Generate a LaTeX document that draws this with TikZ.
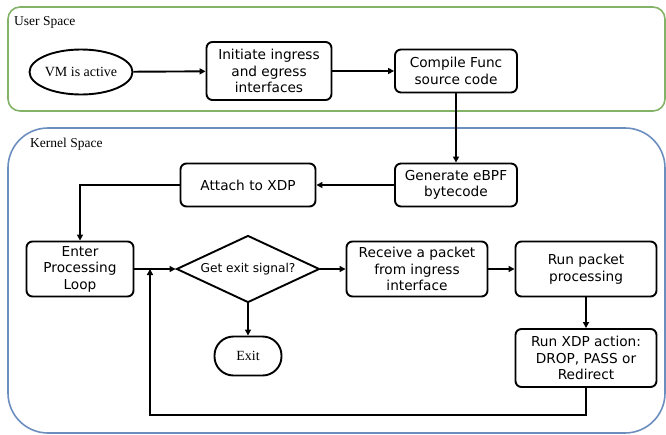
\documentclass[tikz,border=0pt]{standalone}
\usepackage{fontspec}
\setmainfont{Liberation Serif}
\newfontfamily\boxfont{DejaVu Sans}
\usetikzlibrary{arrows.meta,positioning,calc,shapes.geometric}
\definecolor{usrGreen}{HTML}{82B366}
\definecolor{krnBlue}{HTML}{6C8EBF}

\begin{document}
\begin{tikzpicture}[x=1pt,y=-1pt,
  proc/.style={draw,line width=1.9pt,rounded corners=6pt,align=center,inner sep=2pt,
    font=\boxfont\fontsize{13.7}{16.5}\selectfont},
  cond/.style={draw,diamond,aspect=2.13,line width=1.9pt,inner sep=0pt,minimum width=143pt,minimum height=67pt,
    font=\boxfont\fontsize{12.2}{14}\selectfont},
  term/.style={draw,ellipse,line width=1.9pt,inner sep=0pt,minimum width=103pt,minimum height=45pt,
    font=\fontsize{14}{16}\selectfont},
  stopnode/.style={draw,line width=1.9pt,rounded corners=19pt,minimum width=67pt,minimum height=39pt,
    font=\fontsize{14}{16}\selectfont},
  flow/.style={-{Triangle[length=6pt,width=6pt]},line width=1.9pt},
  space/.style={line width=1.6pt},
  lbl/.style={anchor=west,inner sep=0pt,font=\fontsize{13.5}{16}\selectfont}]
  \useasboundingbox (0,0) rectangle (666,434);
  % the two spaces
  \draw[space,usrGreen,rounded corners=12pt] (8,7) rectangle (665,111);
  \draw[space,krnBlue,rounded corners=40pt] (8,128) rectangle (665,433);
  \node[lbl] (usr) at (14,22) {User Space};
  \node[lbl] (krn) at (30,144) {Kernel Space};
  % user space
  \node[term] (vm) at (81,72) {VM is active};
  \node[proc,minimum width=125pt,minimum height=58pt] (init) at (269,71) {Initiate ingress\\and egress\\interfaces};
  \node[proc,minimum width=122pt,minimum height=43pt] (comp) at (456,71) {Compile Func\\source code};
  % kernel space
  \node[proc,minimum width=122pt,minimum height=43pt] (gen) at (456,185) {Generate eBPF\\bytecode};
  \node[proc,minimum width=135pt,minimum height=43pt] (xdp) at (248,185) {Attach to XDP};
  \node[proc,minimum width=107pt,minimum height=55pt] (loop) at (80,269) {Enter\\Processing\\Loop};
  \node[cond] (sig) at (248,269) {Get exit signal?};
  \node[proc,minimum width=141pt,minimum height=55pt] (recv) at (417,269) {Receive a packet\\from ingress\\interface};
  \node[proc,minimum width=141pt,minimum height=55pt] (run) at (586,269) {Run packet\\processing};
  \node[proc,minimum width=141pt,minimum height=58pt] (act) at (586,358) {Run XDP action:\\DROP, PASS or\\Redirect};
  \node[stopnode] (exit) at (248,356) {Exit};
  \coordinate (back) at (150,415);
  \draw[flow] (vm) -- (init);
  \draw[flow] (init) -- (comp);
  \draw[flow] (comp) -- (gen);
  \draw[flow] (gen) -- (xdp);
  \draw[flow] (xdp.west) -| (loop.north);
  \draw[flow] (loop) -- (sig);
  \draw[flow] (sig) -- (recv);
  \draw[flow] (recv) -- (run);
  \draw[flow] (run) -- (act);
  \draw[flow] (sig) -- (exit);
  \draw[flow] (act.south) |- (back) -- (back |- loop.east);
\end{tikzpicture}
\end{document}
